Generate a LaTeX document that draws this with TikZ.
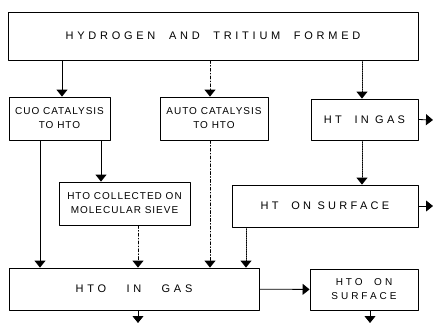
\documentclass[tikz,border=0pt]{standalone}
\usepackage{fontspec}
\setmainfont{Liberation Sans}
\newfontfamily\spwide[LetterSpace=34]{Liberation Sans}
\newfontfamily\spmed[LetterSpace=30]{Liberation Sans}
\newfontfamily\sptight[LetterSpace=10]{Liberation Sans}
\usetikzlibrary{arrows.meta}
\tikzset{
  box/.style={draw, line width=0.8pt, inner sep=0pt, align=center},
  flow/.style={line width=0.8pt, -{Triangle[width=11pt,length=7pt]}},
}
\begin{document}
\begin{tikzpicture}[x=1pt, y=-1pt, line join=round, line cap=round, font=\fontsize{11}{14}\selectfont]
	\useasboundingbox (0,0) rectangle (437,325);
	\path (62,0) coordinate (xa) (210,0) coordinate (xb) (362,0) coordinate (xc) (40,0) coordinate (xd)
		(101,0) coordinate (xe) (138,0) coordinate (xf) (246,0) coordinate (xg) (370,0) coordinate (xh)
		(433,120) coordinate (gasout) (433,206) coordinate (surfout) (138,323) coordinate (htogasout) (370,323) coordinate (htosurfout);
	% boxes
	\node[box, minimum width=410pt, minimum height=48pt] (formed) at (213,36) {\spwide HYDROGEN\ \ AND\ \ TRITIUM\ \ FORMED};
	\node[box, minimum width=101pt, minimum height=43pt, font=\fontsize{10}{14}\selectfont] (cuo) at (59.5,118.5) {\sptight CUO CATALYSIS\\\sptight TO HTO};
	\node[box, minimum width=108pt, minimum height=43pt, font=\fontsize{10}{14}\selectfont] (auto) at (214,118.5) {\sptight AUTO CATALYSIS\\\sptight TO HTO};
	\node[box, minimum width=107pt, minimum height=41pt] (htgas) at (364.5,119.5) {\spmed HT\ \ IN\ GAS};
	\node[box, minimum width=131pt, minimum height=43pt, font=\fontsize{10}{14}\selectfont] (sieve) at (124.5,203.5) {\sptight HTO COLLECTED ON\\\sptight MOLECULAR SIEVE};
	\node[box, minimum width=186pt, minimum height=42pt] (htsurf) at (325,206) {\spmed HT\ \ ON\ SURFACE};
	\node[box, minimum width=250pt, minimum height=42pt] (htogas) at (134,289) {\spwide HTO\ \ \ IN\ \ \ GAS};
	\node[box, minimum width=108pt, minimum height=41pt, font=\fontsize{10}{14}\selectfont] (htosurf) at (364,289.5) {\spmed HTO\ \ ON\\\spmed SURFACE};
	% arrows
	\draw[flow] (formed.south -| xa) -- (cuo.north -| xa);
	\draw[flow, dash dot] (formed.south -| xb) -- (auto.north -| xb);
	\draw[flow, densely dotted] (formed.south -| xc) -- (htgas.north -| xc);
	\draw[flow] (cuo.south -| xd) -- (htogas.north -| xd);
	\draw[flow] (cuo.south -| xe) -- (sieve.north -| xe);
	\draw[flow, dash dot] (sieve.south -| xf) -- (htogas.north -| xf);
	\draw[flow, dash dot] (auto.south -| xb) -- (htogas.north -| xb);
	\draw[flow, densely dotted] (htgas.south -| xc) -- (htsurf.north -| xc);
	\draw[flow, densely dotted] (htsurf.south -| xg) -- (htogas.north -| xg);
	\draw[flow] (htogas) -- (htosurf);
	\draw[flow] (htgas.east) -- (gasout);
	\draw[flow] (htsurf.east) -- (surfout);
	\draw[flow] (htogas.south -| xf) -- (htogasout);
	\draw[flow] (htosurf.south -| xh) -- (htosurfout);
\end{tikzpicture}
\end{document}
